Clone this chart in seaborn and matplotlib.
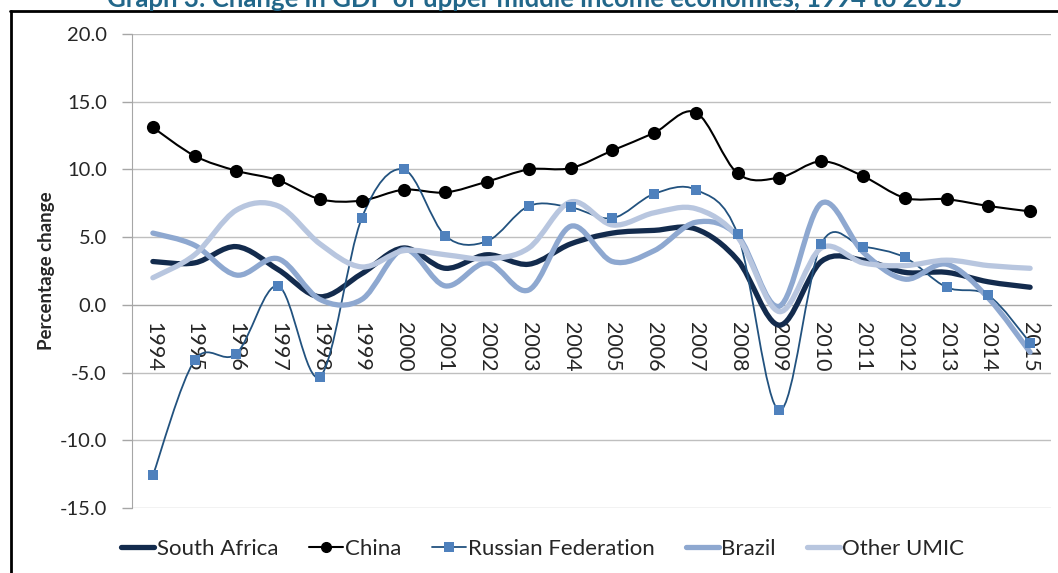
import numpy as np
import pandas as pd
import matplotlib
matplotlib.use("Agg")
import matplotlib.pyplot as plt
import seaborn as sns
from matplotlib.path import Path
from matplotlib.patches import PathPatch
from matplotlib.lines import Line2D

# ---------------- data ----------------
years = [str(y) for y in range(1994, 2016)]
south_africa = [3.2, 3.1, 4.3, 2.6, 0.6, 2.3, 4.2, 2.7, 3.7, 3.0, 4.5, 5.3, 5.5, 5.6, 3.3, -1.5, 3.2, 3.3, 2.4, 2.4, 1.7, 1.3]
china = [13.1, 11.0, 9.9, 9.2, 7.8, 7.7, 8.5, 8.3, 9.1, 10.0, 10.1, 11.4, 12.7, 14.2, 9.7, 9.4, 10.6, 9.5, 7.9, 7.8, 7.3, 6.9]
russia = [-12.6, -4.1, -3.6, 1.4, -5.3, 6.4, 10.0, 5.1, 4.7, 7.3, 7.2, 6.4, 8.2, 8.5, 5.2, -7.8, 4.5, 4.3, 3.5, 1.3, 0.7, -2.8]
brazil = [5.3, 4.4, 2.2, 3.4, 0.4, 0.4, 4.1, 1.4, 3.1, 1.1, 5.8, 3.2, 4.0, 6.1, 5.1, -0.1, 7.5, 3.9, 1.9, 3.0, 0.5, -3.5]
other_umic = [2.0, 3.7, 7.0, 7.3, 4.5, 2.8, 4.0, 3.7, 3.4, 4.2, 7.6, 5.9, 6.8, 7.1, 5.0, -0.5, 4.2, 3.1, 2.9, 3.3, 2.9, 2.7]
series_names = ["South Africa", "China", "Russian Federation", "Brazil", "Other UMIC"]
y_ticks = [-15, -10, -5, 0, 5, 10, 15, 20]
title = "Graph 3: Change in GDP of upper middle income economies, 1994 to 2015"

df = pd.DataFrame({"year": years, "pos": range(len(years)),
                   "South Africa": south_africa, "China": china,
                   "Russian Federation": russia, "Brazil": brazil,
                   "Other UMIC": other_umic})

# ---------------- style ----------------
sns.set_style("white")
plt.rcParams["font.family"] = ["Lato", "DejaVu Sans"]

colors = {"South Africa": "#132b4d", "China": "#000000",
          "Russian Federation": "#22527f", "Brazil": "#8ea8d0",
          "Other UMIC": "#b8c6df"}
widths = {"South Africa": 3.8, "China": 1.5, "Russian Federation": 1.3,
          "Brazil": 3.8, "Other UMIC": 3.8}

fig = plt.figure(figsize=(10.58, 5.73), dpi=100)
ax = fig.add_axes([132 / 1058, 1 - 508 / 573, 919 / 1058, 474 / 573])


def smooth_path(x, y):
    pts = np.column_stack([x, y]).astype(float)
    n = len(pts)
    verts = [pts[0]]
    codes = [Path.MOVETO]
    for i in range(n - 1):
        p0 = pts[i - 1] if i > 0 else pts[i]
        p1 = pts[i]
        p2 = pts[i + 1]
        p3 = pts[i + 2] if i + 2 < n else pts[i + 1]
        verts += [p1 + (p2 - p0) / 6, p2 - (p3 - p1) / 6, p2]
        codes += [Path.CURVE4] * 3
    return Path(verts, codes)


for z, name in enumerate(series_names):
    patch = PathPatch(smooth_path(df["pos"], df[name]), fill=False,
                      edgecolor=colors[name], lw=widths[name],
                      capstyle="round", joinstyle="round", zorder=2 + z)
    ax.add_patch(patch)

sns.scatterplot(data=df, x="pos", y="China", ax=ax, marker="o", s=90,
                color="#000000", linewidth=0, zorder=10, legend=False)
sns.scatterplot(data=df, x="pos", y="Russian Federation", ax=ax, marker="s",
                s=62, color="#4f81bd", linewidth=0, zorder=11, legend=False)

# spines first (set_position resets tick settings)
for s in ["top", "right"]:
    ax.spines[s].set_visible(False)
ax.spines["bottom"].set_position(("data", 0))
ax.spines["bottom"].set_color("#a6a6a6")
ax.spines["left"].set_color("#a6a6a6")
ax.spines["bottom"].set_zorder(1)

ax.set_xlim(-0.5, len(years) - 0.5)
ax.set_ylim(-15, 20)
ax.set_yticks(y_ticks)
ax.set_yticklabels([f"{v:.1f}" for v in y_ticks], fontsize=14.5)
ax.yaxis.grid(True, color="#bfbfbf", lw=1.0)
ax.set_axisbelow(True)

ax.set_xticks(range(len(years)))
ax.set_xticklabels(years, rotation=270, fontsize=15.5, ha="center", va="top")
ax.set_xticks(np.arange(-0.5, len(years), 1.0), minor=True)
ax.tick_params(axis="x", which="major", length=0, pad=12)
ax.tick_params(axis="x", which="minor", length=6, width=1, color="#a6a6a6",
               direction="out")
ax.tick_params(axis="y", length=7, width=1, color="#a6a6a6", pad=11,
               left=True)

ax.set_xlabel("")
ax.set_ylabel("Percentage change", fontsize=13.5, fontweight="bold")
ax.yaxis.set_label_coords(-0.084, 0.5)

# legend
handles = [
    Line2D([], [], color=colors["South Africa"], lw=3.8),
    Line2D([], [], color="#000000", lw=1.5, marker="o", markersize=7),
    Line2D([], [], color=colors["Russian Federation"], lw=1.3, marker="s",
           markersize=7, markerfacecolor="#4f81bd", markeredgewidth=0),
    Line2D([], [], color=colors["Brazil"], lw=3.8),
    Line2D([], [], color=colors["Other UMIC"], lw=3.8),
]
fig.legend(handles, series_names, loc="center", bbox_to_anchor=(0.513, 0.042),
           ncol=5, frameon=False, fontsize=16, handlelength=1.5,
           handletextpad=0.1, columnspacing=1.4)

# frame lines and clipped title (the reference shows it cut at the top edge)
fig.add_artist(Line2D([10 / 1058, 1], [1 - 11 / 573, 1 - 11 / 573],
                      transform=fig.transFigure, color="black", lw=2))
fig.add_artist(Line2D([11 / 1058, 11 / 1058], [0, 1 - 11 / 573],
                      transform=fig.transFigure, color="black", lw=2))
fig.text(535 / 1058, 1 - 7 / 573, title, ha="center", va="baseline",
         fontsize=18.5, fontweight="bold", color="#22678a")

fig.savefig("out.png", dpi=100)
